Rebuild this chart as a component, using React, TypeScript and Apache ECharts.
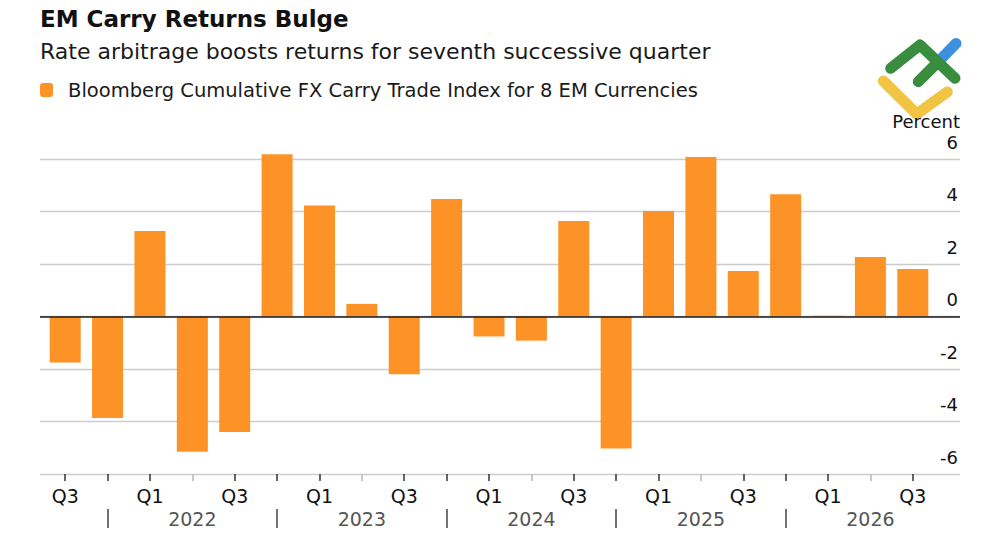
import React, { useEffect, useRef } from "react";
import * as echarts from "echarts";

const categories = [
  "Q3 2021", "Q4 2021",
  "Q1 2022", "Q2 2022", "Q3 2022", "Q4 2022",
  "Q1 2023", "Q2 2023", "Q3 2023", "Q4 2023",
  "Q1 2024", "Q2 2024", "Q3 2024", "Q4 2024",
  "Q1 2025", "Q2 2025", "Q3 2025", "Q4 2025",
  "Q1 2026", "Q2 2026", "Q3 2026",
];

const carryReturns = [
  -1.75, -3.87, 3.26, -5.15, -4.4, 6.18, 4.23, 0.48, -2.2, 4.48, -0.76,
  -0.92, 3.64, -5.03, 4.02, 6.08, 1.73, 4.66, 0.03, 2.27, 1.81,
];

const yTicks = [-6, -4, -2, 0, 2, 4, 6];

const seriesName = "Bloomberg Cumulative FX Carry Trade Index for 8 EM Currencies";
const titleText = "EM Carry Returns Bulge";
const subtitleText = "Rate arbitrage boosts returns for seventh successive quarter";
const unitText = "Percent";

const FONT = "'DejaVu Sans', 'Liberation Sans', sans-serif";
const ORANGE = "#fd9226";

export default function App() {
  const ref = useRef<HTMLDivElement>(null);

  useEffect(() => {
    if (!ref.current) return;
    const chart = echarts.init(ref.current, undefined, { renderer: "svg" });
    const yMin = yTicks[0];
    const yMax = yTicks[yTicks.length - 1];
    const yStep = yTicks[1] - yTicks[0];

    const quarterOf = (c: string) => c.split(" ")[0];
    const yearOf = (c: string) => c.split(" ")[1];

    const noLine = { show: false, onZero: false };

    const option: any = {
      animation: false,
      backgroundColor: "#ffffff",
      textStyle: { fontFamily: FONT },
      title: [
        {
          text: titleText,
          left: 40,
          top: 7,
          padding: 0,
          textStyle: { fontFamily: FONT, fontSize: 23, fontWeight: "bold", color: "#111" },
        },
        {
          text: subtitleText,
          left: 40,
          top: 40,
          padding: 0,
          textStyle: { fontFamily: FONT, fontSize: 22, fontWeight: "normal", color: "#1a1a1a" },
        },
      ],
      legend: {
        data: [seriesName],
        left: 40,
        top: 80,
        padding: 0,
        icon: "roundRect",
        itemWidth: 13,
        itemHeight: 14,
        textStyle: { fontFamily: FONT, fontSize: 19.5, color: "#1a1a1a", padding: [0, 0, 0, 10] },
      },
      grid: [
        { left: 40, right: 40, top: 159, height: 315, containLabel: false },
        { left: 44, right: 66, top: 159, height: 315, containLabel: false },
      ],
      xAxis: [
        { type: "category", gridIndex: 0, data: categories, show: false, axisLine: noLine },
        {
          type: "category",
          gridIndex: 1,
          data: categories,
          position: "bottom",
          offset: 0,
          axisLine: noLine,
          axisTick: {
            show: true,
            alignWithLabel: true,
            length: 7,
            interval: 0,
            lineStyle: { color: "#333", width: 1.5 },
          },
          axisLabel: {
            interval: 0,
            margin: 12,
            fontFamily: FONT,
            fontSize: 19,
            color: "#111",
            formatter: (v: string) => {
              const q = quarterOf(v);
              return q === "Q1" || q === "Q3" ? q : "";
            },
          },
        },
        {
          type: "category",
          gridIndex: 1,
          data: categories,
          position: "bottom",
          offset: 0,
          axisLine: noLine,
          axisTick: {
            show: true,
            alignWithLabel: true,
            length: 7,
            interval: (_i: number, v: string) => quarterOf(v) === "Q2",
            lineStyle: { color: "#c8c8c8", width: 2 },
          },
          axisLabel: { show: false },
        },
        {
          type: "category",
          gridIndex: 1,
          data: categories,
          position: "bottom",
          offset: 0,
          axisLine: noLine,
          axisTick: { show: false },
          axisLabel: {
            interval: 0,
            margin: 35,
            fontFamily: FONT,
            fontSize: 19,
            color: "#555",
            formatter: (v: string) => (quarterOf(v) === "Q2" ? yearOf(v) : ""),
          },
        },
        {
          type: "category",
          gridIndex: 1,
          data: categories,
          position: "bottom",
          offset: 35,
          axisLine: noLine,
          axisTick: {
            show: true,
            alignWithLabel: true,
            length: 19,
            interval: (_i: number, v: string) => quarterOf(v) === "Q4",
            lineStyle: { color: "#444", width: 1.5 },
          },
          axisLabel: { show: false },
        },
      ],
      yAxis: [
        {
          type: "value",
          gridIndex: 0,
          position: "right",
          min: yMin,
          max: yMax,
          interval: yStep,
          name: unitText,
          nameLocation: "end",
          nameGap: 38,
          nameTextStyle: {
            fontFamily: FONT,
            fontSize: 18,
            color: "#111",
            align: "right",
            verticalAlign: "middle",
          },
          axisLine: { show: false, onZero: false },
          axisTick: { show: false },
          axisLabel: {
            inside: true,
            margin: 2,
            fontFamily: FONT,
            fontSize: 18,
            color: "#111",
            verticalAlign: "bottom",
            padding: [0, 0, 8, 0],
          },
          splitLine: { show: true, lineStyle: { color: "#cccccc", width: 1.3 } },
        },
        {
          type: "value",
          gridIndex: 1,
          min: yMin,
          max: yMax,
          interval: yStep,
          show: false,
          axisLine: { show: false, onZero: false },
          splitLine: { show: false },
        },
      ],
      series: [
        {
          name: seriesName,
          type: "bar",
          xAxisIndex: 1,
          yAxisIndex: 1,
          data: carryReturns,
          barWidth: 31,
          clip: false,
          itemStyle: { color: ORANGE },
          z: 2,
        },
        {
          name: "zero",
          type: "line",
          xAxisIndex: 0,
          yAxisIndex: 0,
          data: [],
          z: 5,
          markLine: {
            silent: true,
            symbol: "none",
            label: { show: false },
            lineStyle: { color: "#1a1a1a", width: 1.5, type: "solid" },
            data: [{ yAxis: 0 }],
          },
        },
      ],
      graphic: [
        {
          type: "group",
          silent: true,
          children: [
            {
              type: "polyline",
              shape: { points: [[938, 62], [956, 43.5]] },
              style: { stroke: "#3d8fdf", lineWidth: 11, lineCap: "round", fill: "none" },
            },
            {
              type: "polyline",
              shape: { points: [[883.3, 81], [916.7, 114], [947.3, 92]] },
              style: { stroke: "#f1c443", lineWidth: 11, lineCap: "round", lineJoin: "round", fill: "none" },
            },
            {
              type: "polyline",
              shape: { points: [[890.7, 68.3], [920, 45], [955, 78.3]] },
              style: { stroke: "#3a8d3e", lineWidth: 11, lineCap: "round", lineJoin: "round", fill: "none" },
            },
            {
              type: "polyline",
              shape: { points: [[918.3, 81.7], [938, 62]] },
              style: { stroke: "#3a8d3e", lineWidth: 11, lineCap: "round", fill: "none" },
            },
          ],
        },
      ],
    };

    chart.setOption(option);
    return () => chart.dispose();
  }, []);

  return <div ref={ref} style={{ width: 1000, height: 545, margin: -8 }} />;
}
